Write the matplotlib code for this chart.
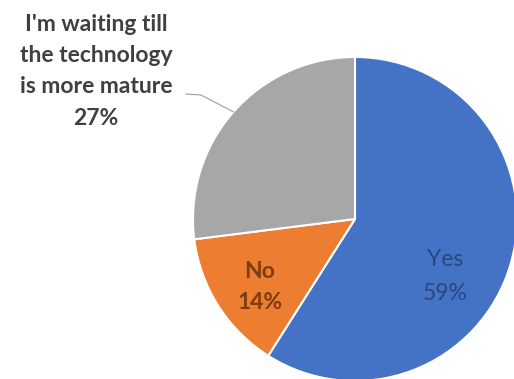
import numpy as np
import matplotlib
matplotlib.use("Agg")
import matplotlib.pyplot as plt

categories = ["Yes", "No", "I'm waiting till\nthe technology\nis more mature"]
values = [59, 14, 27]
colors = ["#4472C4", "#ED7D31", "#A7A7A7"]
label_colors = ["#2A4780", "#7E3C10", "#404040"]

W, H = 514, 379
fig = plt.figure(figsize=(W / 100, H / 100), dpi=100)
ax = fig.add_axes([0, 0, 1, 1])

cx, cy, r = 355, H - 219, 162
wedges, _ = ax.pie(values, colors=colors, startangle=90, counterclock=False,
                   center=(cx, cy), radius=r, frame=True,
                   wedgeprops=dict(edgecolor="white", linewidth=1.5))
ax.set_xlim(0, W)
ax.set_ylim(0, H)
ax.axis("off")

font = "Lato"
fs = 16.5


def label(x, baselines, lines, color, weight="normal"):
    for yb, s in zip(baselines, lines):
        ax.text(x, H - yb, s, ha="center", va="baseline", color=color,
                fontsize=fs, family=font, fontweight=weight)


# inside labels
label(445, [266, 300], [categories[0], f"{values[0]}%"], label_colors[0])
label(260, [278, 309], [categories[1], f"{values[1]}%"], label_colors[1], "bold")

# outside label with leader line
label(96, [31, 62, 93, 125], categories[2].split("\n") + [f"{values[2]}%"],
      label_colors[2], "bold")
w = wedges[2]
mid = np.deg2rad((w.theta1 + w.theta2) / 2)
ex, ey = cx + r * np.cos(mid), cy + r * np.sin(mid)
ax.plot([186, 201, ex], [H - 94, H - 95, ey], color="#A6A6A6", linewidth=0.9)

fig.savefig("out.png", dpi=100, facecolor="white")
